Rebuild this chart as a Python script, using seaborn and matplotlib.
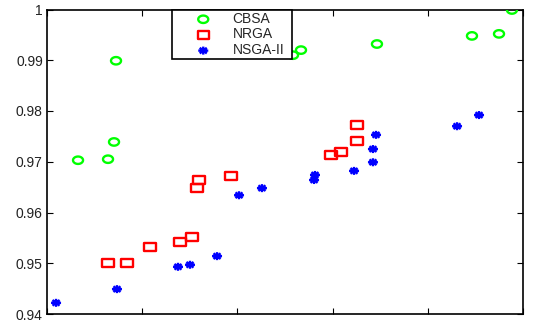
import numpy as np
import pandas as pd
import matplotlib
matplotlib.use("Agg")
import matplotlib.pyplot as plt
from matplotlib.path import Path
from matplotlib.ticker import FixedLocator, FuncFormatter, NullFormatter
import seaborn as sns

# ---- data -------------------------------------------------------------
cbsa_x = [3.26, 6.41, 7.04, 7.25, 25.84, 26.68, 34.66, 44.64, 47.48, 48.84]
cbsa_y = [0.9703, 0.9705, 0.9739, 0.9899, 0.9910, 0.9920, 0.9932, 0.9948, 0.9952, 0.9999]

nrga_x = [6.41, 8.40, 10.82, 13.97, 15.23, 15.76, 15.97, 19.33, 29.83, 30.88, 32.56, 32.56]
nrga_y = [0.9501, 0.9501, 0.9532, 0.9542, 0.9552, 0.9648, 0.9664, 0.9672, 0.9713, 0.9719, 0.9741, 0.9772]

nsga_x = [0.95, 7.35, 13.76, 15.02, 17.86, 20.17, 22.58, 28.05, 28.15, 32.25, 34.24, 34.24, 34.56, 43.07, 45.38]
nsga_y = [0.9422, 0.9449, 0.9493, 0.9497, 0.9514, 0.9634, 0.9648, 0.9664, 0.9674, 0.9682, 0.9699, 0.9725, 0.9753, 0.9770, 0.9792]

series_names = ["CBSA", "NRGA", "NSGA-II"]
y_ticks = [0.94, 0.95, 0.96, 0.97, 0.98, 0.99, 1.00]
x_ticks = [0, 10, 20, 30, 40, 50]

# ---- marker shapes (slightly wide, as in the original figure) ----------
sx = 1.35
t = np.linspace(0, 2 * np.pi, 64)
ellipse = Path(np.column_stack([sx * np.cos(t), np.sin(t)]), closed=True)
rect = Path([(-sx, -1), (sx, -1), (sx, 1), (-sx, 1), (-sx, -1)],
            [Path.MOVETO, Path.LINETO, Path.LINETO, Path.LINETO, Path.CLOSEPOLY])
ast_verts, ast_codes = [], []
for a in np.deg2rad([0, 45, 90, 135]):
    dx, dy = 1.25 * np.cos(a), np.sin(a)
    ast_verts += [(-dx, -dy), (dx, dy)]
    ast_codes += [Path.MOVETO, Path.LINETO]
asterisk = Path(ast_verts, ast_codes)

# ---- figure -----------------------------------------------------------
sns.set_style("white")
plt.rcParams["font.family"] = ["Liberation Sans", "DejaVu Sans"]

fig = plt.figure(figsize=(5.35, 3.21), dpi=100)
ax = fig.add_axes([47 / 535, 1 - 314 / 321, 476 / 535, 304.5 / 321])

styles = [
    (cbsa_x, cbsa_y, ellipse, 52, "#00ff00"),
    (nrga_x, nrga_y, rect, 64, "#ff0000"),
    (nsga_x, nsga_y, asterisk, 52, "#0000ff"),
]
for name, (xs, ys, mk, size, col) in zip(series_names, styles):
    sns.scatterplot(x=xs, y=ys, ax=ax, marker=mk, s=size,
                    facecolor="none", edgecolor=col, linewidth=1.7,
                    label=name, zorder=3)

ax.set_xlim(0, 50)
ax.set_ylim(0.94, 1.0)
ax.xaxis.set_major_locator(FixedLocator(x_ticks))
ax.yaxis.set_major_locator(FixedLocator(y_ticks))
ax.xaxis.set_major_formatter(NullFormatter())
ax.yaxis.set_major_formatter(FuncFormatter(lambda v, p: f"{v:g}"))
ax.tick_params(direction="in", length=4, width=0.8, color="black",
               top=True, right=True, bottom=True, left=True,
               labelsize=10, labelcolor="#222222", pad=3)
for sp in ax.spines.values():
    sp.set_visible(True)
    sp.set_color("black")
    sp.set_linewidth(1.2)
ax.set_xlabel("")
ax.set_ylabel("")

leg = ax.legend(loc="upper left",
                bbox_to_anchor=((172 - 47) / 476, 0.0, 120 / 476, 1.0),
                mode="expand",
                borderaxespad=0, frameon=True, fancybox=False, framealpha=1,
                edgecolor="black", fontsize=10, borderpad=0.15,
                handlelength=4.2, handletextpad=0.0, labelspacing=0.12,
                handleheight=0.6)
leg.get_frame().set_linewidth(1.2)
leg.set_zorder(5)

fig.savefig("out.png", dpi=100)
